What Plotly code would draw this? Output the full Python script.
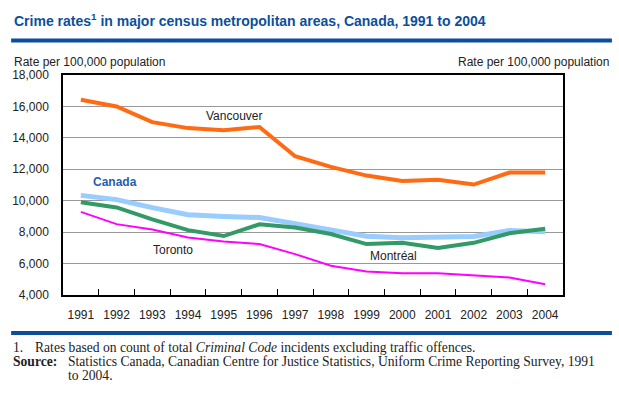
import plotly.graph_objects as go

# Data (rate per 100,000 population)
years = ["1991", "1992", "1993", "1994", "1995", "1996", "1997",
         "1998", "1999", "2000", "2001", "2002", "2003", "2004"]
vancouver = [16430, 16000, 15000, 14620, 14480, 14690, 12830,
             12150, 11600, 11260, 11340, 11030, 11790, 11790]
canada = [10340, 10070, 9560, 9110, 9000, 8930, 8540,
          8170, 7740, 7650, 7660, 7730, 8100, 8030]
montreal = [9900, 9570, 8810, 8130, 7750, 8500, 8300,
            7880, 7240, 7320, 7000, 7320, 7930, 8210]
toronto = [9290, 8510, 8170, 7660, 7410, 7240, 6600,
           5860, 5500, 5380, 5380, 5270, 5120, 4680]

y_ticks = [4000, 6000, 8000, 10000, 12000, 14000, 16000, 18000]

W, H = 619, 400
L, R, T, B = 57.5, 55.5, 74.5, 105
BLUE = "#0b4f9c"


def px_x(x):
    return (x - L) / (W - L - R)


def px_y(y):
    return (H - B - y) / (H - T - B)


fig = go.Figure()

series = [
    ("Canada", canada, "#99ccff", 5),
    ("Montréal", montreal, "#339966", 4),
    ("Toronto", toronto, "#ff00ff", 2),
    ("Vancouver", vancouver, "#ff6a13", 4),
]
for name, vals, color, width in series:
    fig.add_trace(go.Scatter(
        x=years, y=vals, mode="lines", name=name,
        line=dict(color=color, width=width),
        showlegend=False,
    ))

axis_font = dict(family="Liberation Sans, Arial, sans-serif", size=12, color="#222")

fig.update_layout(
    width=W, height=H,
    margin=dict(l=L, r=R, t=T, b=B, pad=0),
    paper_bgcolor="white", plot_bgcolor="white",
    font=axis_font,
    xaxis=dict(
        type="category", range=[-0.5, 13.5], tickangle=0,
        tickson="boundaries", ticks="inside", ticklen=6, tickcolor="black",
        showline=True, linecolor="black", linewidth=1.5, mirror=True,
        showgrid=False, zeroline=False, ticklabelstandoff=8,
        tickfont=axis_font,
    ),
    yaxis=dict(
        range=[4000, 18000], tickvals=y_ticks, tickformat=",d",
        showgrid=True, gridcolor="#999999", gridwidth=1,
        showline=True, linecolor="black", linewidth=1.5, mirror=True,
        zeroline=False, ticks="", ticklabelstandoff=10,
        tickfont=axis_font,
    ),
    yaxis2=dict(
        range=[4000, 18000], tickvals=y_ticks, tickformat=",d",
        overlaying="y", side="right", showgrid=False, zeroline=False,
        showline=False, ticks="", ticklabelstandoff=8,
        tickfont=axis_font,
    ),
)

# Series labels
labels = [
    ("Vancouver", 4.3, 15400, "#222", False),
    ("Canada", 0.96, 11190, "#1f5fad", True),
    ("Toronto", 2.59, 6880, "#222", False),
    ("Montréal", 8.74, 6480, "#222", False),
]
for text, xi, yi, color, bold in labels:
    fig.add_annotation(
        x=xi, y=yi, xref="x", yref="y", showarrow=False,
        text=f"<b>{text}</b>" if bold else text,
        font=dict(family="Liberation Sans, Arial, sans-serif", size=12, color=color),
    )

# Title, axis titles, footnotes
fig.add_annotation(
    x=px_x(6), y=px_y(19), xref="paper", yref="paper",
    xanchor="left", yanchor="middle", showarrow=False,
    text="<b>Crime rates<sup>1</sup> in major census metropolitan areas, Canada, 1991 to 2004</b>",
    font=dict(family="Liberation Sans, Arial, sans-serif", size=14, color=BLUE),
)
for xp, anchor in [(6, "left"), (612, "right")]:
    fig.add_annotation(
        x=px_x(xp), y=px_y(61), xref="paper", yref="paper",
        xanchor=anchor, yanchor="middle", showarrow=False,
        text="Rate per 100,000 population", font=axis_font,
    )

serif = dict(family="Liberation Serif, Times New Roman, serif", size=13.6, color="#222")
notes = [
    (6, 348, "1."),
    (28, 348, "Rates based on count of total <i>Criminal Code</i> incidents excluding traffic offences."),
    (6, 362, "<b>Source:</b>"),
    (62, 362, "Statistics Canada, Canadian Centre for Justice Statistics, Uniform Crime Reporting Survey, 1991"),
    (62, 376, "to 2004."),
]
for xp, yp, text in notes:
    fig.add_annotation(
        x=px_x(xp), y=px_y(yp), xref="paper", yref="paper",
        xanchor="left", yanchor="middle", showarrow=False, borderpad=0,
        text=text, font=serif,
    )

# Blue rules
for yp in [40, 333]:
    fig.add_shape(
        type="line", xref="paper", yref="paper",
        x0=px_x(5), x1=px_x(613), y0=px_y(yp), y1=px_y(yp),
        line=dict(color=BLUE, width=4),
    )

# drop the default 8px body margin so the figure sits at the window origin
fig.write_html(
    "out.html",
    config={"displayModeBar": False},
    post_script="document.body.style.margin = '0';",
)
